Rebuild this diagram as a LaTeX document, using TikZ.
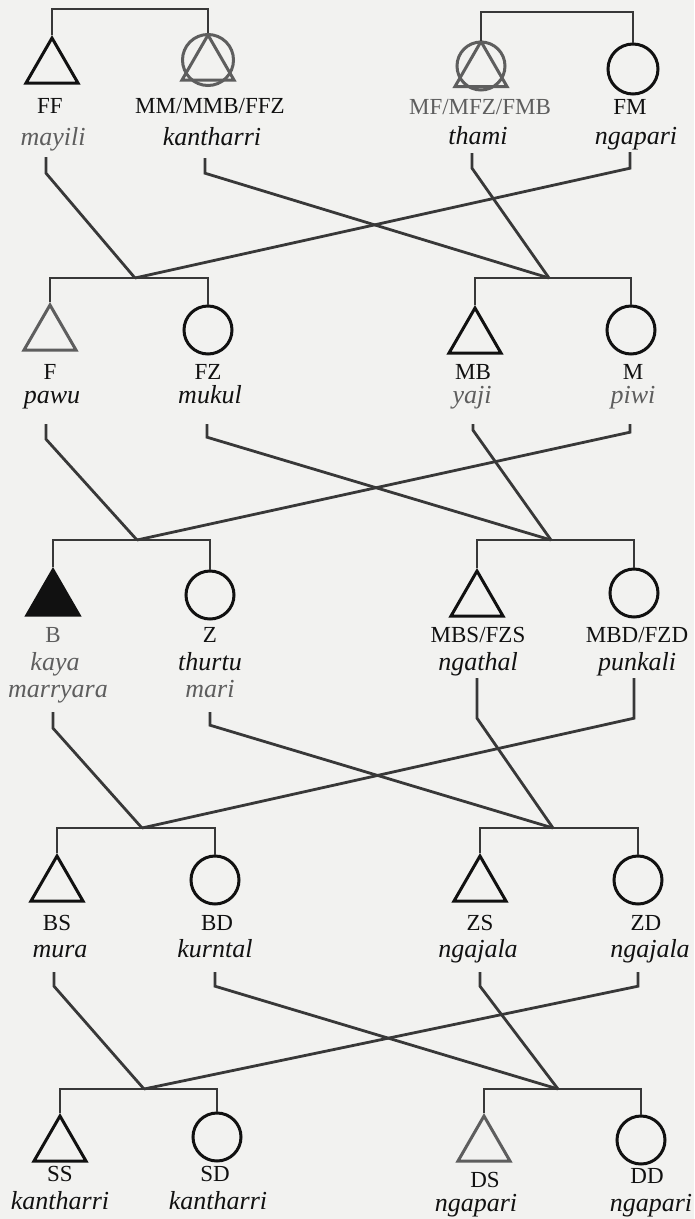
\documentclass[tikz,border=0pt]{standalone}
\usepackage{fontspec}
\setmainfont{Liberation Serif}
\usepackage{tikz}
\usetikzlibrary{shapes.geometric}
\definecolor{paper}{HTML}{F2F2F0}
\definecolor{ink}{HTML}{111111}
\definecolor{wire}{HTML}{383838}
\definecolor{faint}{HTML}{5E5E5E}

\begin{document}
\begin{tikzpicture}[
x=1pt,y=-1pt,
tie/.style={draw=wire,line width=2.8pt},
male/.style={regular polygon,regular polygon sides=3,minimum size=60pt,inner sep=0pt,draw=ink,line width=3pt},
female/.style={circle,minimum size=48pt,inner sep=0pt,draw=ink,line width=3pt},
pale/.style={draw=faint},
dim/.style={text=faint},
abbr/.style={anchor=base,inner sep=0pt,text=ink,font=\fontsize{23}{27}\selectfont},
term/.style={anchor=base,inner sep=0pt,text=ink,text depth=6pt,font=\fontsize{26}{30}\selectfont\itshape}
]
\path[use as bounding box,fill=paper] (0,0) rectangle (694,1219);

\coordinate (top1) at (130,9);
\coordinate (top2) at (557,12);
\coordinate (g2L) at (135,278);
\coordinate (g2R) at (549,278);
\coordinate (g3L) at (137,540);
\coordinate (g3R) at (551,540);
\coordinate (g4L) at (142,828);
\coordinate (g4R) at (553,828);
\coordinate (g5L) at (144,1089);
\coordinate (g5R) at (558,1089);

\node[male] (ff) at (52,68) {};
\node[female,pale,minimum size=51pt] (mm) at (208,60) {};
\node[male,pale] (mmX) at (208,65) {};
\node[female,pale] (mf) at (481,66) {};
\node[male,pale] (mfX) at (481,71.5) {};
\node[female,minimum size=50pt] (fm) at (633,69) {};
\node[abbr] (ffA) at (50,113) {FF};
\node[term,dim] (ffT) at (53,145) {mayili};
\node[abbr] (mmA) at (210,113) {MM/MMB/FFZ};
\node[term] (mmT) at (212,145) {kantharri};
\node[abbr,dim] (mfA) at (480,114) {MF/MFZ/FMB};
\node[term] (mfT) at (478,144) {thami};
\node[abbr] (fmA) at (630,114) {FM};
\node[term] (fmT) at (636,144) {ngapari};
\draw[tie] (ff.corner 1) |- (top1) -| (mm.north);
\draw[tie] (mf.north) |- (top2) -| (fm.north);
\draw[tie] (ffT.south) ++(-7,6) -- ++(0,16) -- (g2L);
\draw[tie] (mmT.south) ++(-7,7) -- ++(0,15) -- (g2R);
\draw[tie] (mfT.south) ++(-6,3) -- ++(0,15) -- (g2R);
\draw[tie] (fmT.south) ++(-6,2) -- ++(0,16) -- (g2L);

\node[male,pale] (f) at (50,335) {};
\node[female] (fz) at (208,330) {};
\node[male] (mb) at (475,338) {};
\node[female] (m) at (631,330) {};
\node[abbr] (fA) at (50,379) {F};
\node[term] (fT) at (52,403) {pawu};
\node[abbr] (fzA) at (208,379) {FZ};
\node[term] (fzT) at (210,403) {mukul};
\node[abbr] (mbA) at (473,379) {MB};
\node[term,dim] (mbT) at (472,403) {yaji};
\node[abbr] (mA) at (633,379) {M};
\node[term,dim] (mT) at (633,403) {piwi};
\draw[tie] (f.corner 1) |- (g2L) -| (fz.north);
\draw[tie] (mb.corner 1) |- (g2R) -| (m.north);
\draw[tie] (fT.south) ++(-6,15) -- ++(0,15) -- (g3L);
\draw[tie] (fzT.south) ++(-3,15) -- ++(0,13) -- (g3R);
\draw[tie] (mbT.south) ++(1,15) -- ++(0,6) -- (g3R);
\draw[tie] (mT.south) ++(-3,15) -- ++(0,8) -- (g3L);

\node[male,fill=ink] (b) at (53,600) {};
\node[female] (z) at (210,595) {};
\node[male] (mbs) at (477,601) {};
\node[female] (mbd) at (634,593) {};
\node[abbr,dim] (bA) at (53,642) {B};
\node[term,dim] (bT) at (55,670) {kaya};
\node[term,dim] (bU) at (58,697) {marryara};
\node[abbr] (zA) at (210,642) {Z};
\node[term] (zT) at (210,670) {thurtu};
\node[term,dim] (zU) at (210,697) {mari};
\node[abbr] (mbsA) at (478,642) {MBS/FZS};
\node[term] (mbsT) at (478,670) {ngathal};
\node[abbr] (mbdA) at (637,642) {MBD/FZD};
\node[term] (mbdT) at (637,670) {punkali};
\draw[tie] (b.corner 1) |- (g3L) -| (z.north);
\draw[tie] (mbs.corner 1) |- (g3R) -| (mbd.north);
\draw[tie] (bU.south) ++(-5,9) -- ++(0,16) -- (g4L);
\draw[tie] (zU.south) ++(0,9) -- ++(0,13) -- (g4R);
\draw[tie] (mbsT.south) ++(-1,2) -- ++(0,40) -- (g4R);
\draw[tie] (mbdT.south) ++(-3,2) -- ++(0,40) -- (g4L);

\node[male] (bs) at (57,886) {};
\node[female] (bd) at (215,880) {};
\node[male] (zs) at (480,886) {};
\node[female] (zd) at (638,880) {};
\node[abbr] (bsA) at (57,930) {BS};
\node[term] (bsT) at (60,957) {mura};
\node[abbr] (bdA) at (217,930) {BD};
\node[term] (bdT) at (215,957) {kurntal};
\node[abbr] (zsA) at (480,930) {ZS};
\node[term] (zsT) at (478,957) {ngajala};
\node[abbr] (zdA) at (646,930) {ZD};
\node[term] (zdT) at (650,957) {ngajala};
\draw[tie] (bs.corner 1) |- (g4L) -| (bd.north);
\draw[tie] (zs.corner 1) |- (g4R) -| (zd.north);
\draw[tie] (bsT.south) ++(-6,9) -- ++(0,14) -- (g5L);
\draw[tie] (bdT.south) ++(0,9) -- ++(0,14) -- (g5R);
\draw[tie] (zsT.south) ++(2,9) -- ++(0,14) -- (g5R);
\draw[tie] (zdT.south) ++(-12,9) -- ++(0,14) -- (g5L);

\node[male] (ss) at (60,1146) {};
\node[female] (sd) at (217,1137) {};
\node[male,pale] (ds) at (484,1146) {};
\node[female] (dd) at (641,1140) {};
\node[abbr] (ssA) at (60,1181) {SS};
\node[term] (ssT) at (60,1209) {kantharri};
\node[abbr] (sdA) at (215,1181) {SD};
\node[term] (sdT) at (218,1209) {kantharri};
\node[abbr] (dsA) at (485,1187) {DS};
\node[term] (dsT) at (476,1211) {ngapari};
\node[abbr] (ddA) at (647,1183) {DD};
\node[term] (ddT) at (651,1211) {ngapari};
\draw[tie] (ss.corner 1) |- (g5L) -| (sd.north);
\draw[tie] (ds.corner 1) |- (g5R) -| (dd.north);
\end{tikzpicture}
\end{document}
